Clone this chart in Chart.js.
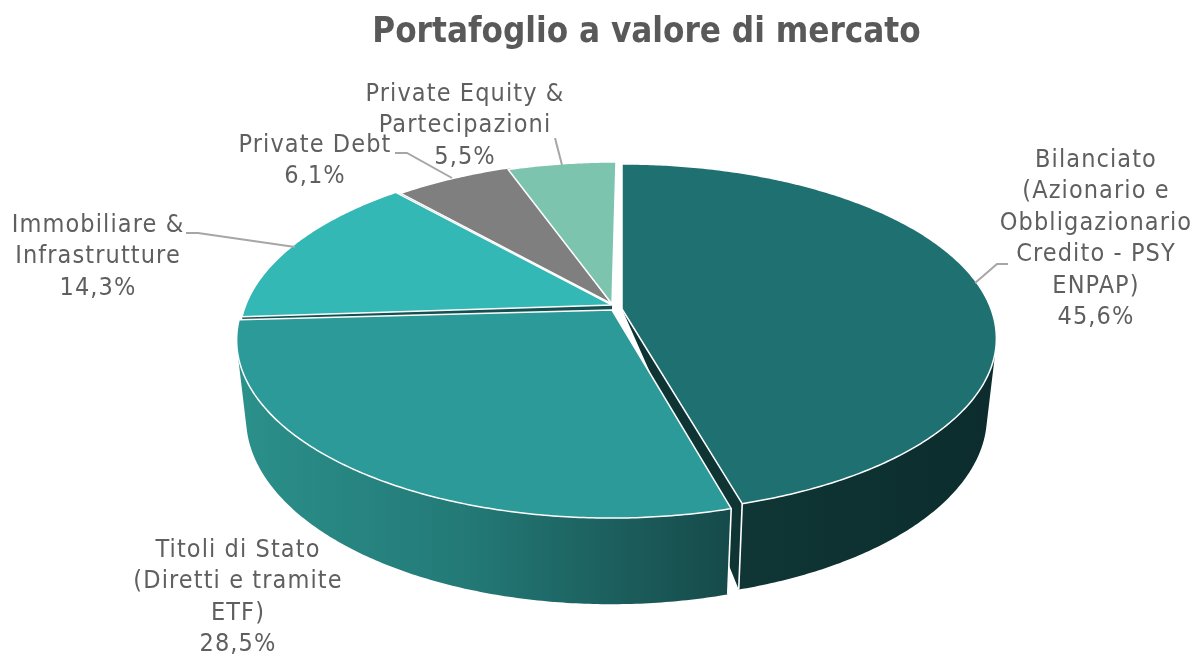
<!DOCTYPE html>
<html><head><meta charset="utf-8">
<style>html,body{margin:0;padding:0;background:#fff}#w{width:1203px;height:655px}</style>
<script src="https://cdn.jsdelivr.net/npm/chart.js@4"></script>
</head><body><div id="w"><canvas id="c"></canvas></div>
<script>
const categories = ["Bilanciato (Azionario e Obbligazionario Credito - PSY ENPAP)","Titoli di Stato (Diretti e tramite ETF)","Immobiliare & Infrastrutture","Private Debt","Private Equity & Partecipazioni"];
const values = [45.6,28.5,14.3,6.1,5.5];
const titleText = "Portafoglio a valore di mercato";
const labelLines = [
  ["Bilanciato","(Azionario e","Obbligazionario","Credito - PSY","ENPAP)","45,6%"],
  ["Titoli di Stato","(Diretti e tramite","ETF)","28,5%"],
  ["Immobiliare &","Infrastrutture","14,3%"],
  ["Private Debt","6,1%"],
  ["Private Equity &","Partecipazioni","5,5%"]
];
const topColors = ["#1f7070","#2c9a99","#33b8b5","#7f7f7f","#7cc4ae"];
const cutColors = ["#0e3434","#1b6a68","#14504f","#505050","#5a9080"];

// Layout (not data)
const P = {cx:612, cy:310, rx:369, ry:173, k:0.1685, depthH:79, depthW:0.025};
const arcOff = [[10,-1,0.98],[-1,0,1],[2,-3,1],[7,-2,1],[4,0,1]];
const hubOff = [[10,-1],[0,0],[0,-5],[0,-6],[0,-6]];
const labelPos = [[1096,160],[238,550],[98,225],[315,145],[465,94]];
const lineH = 31.5;
const leaders = [
  {from:[1008,264],elbow:[997,264],at:[975,283]},
  {from:null},
  {from:[186,233],elbow:[198,233],at:[295,247]},
  {from:[395,153],elbow:[407,153],at:[452,178]},
  {from:[555,138],elbow:null,at:[562,165]}
];
function proj(a,d,i){
  const off=arcOff[i];
  const u=Math.sin(a), v=-Math.cos(a);
  const w=1-P.k*v+(d?P.depthW:0);
  return [P.cx+off[0]+P.rx*u/w, P.cy+off[1]+(P.ry*off[2]*v+(d?P.depthH:0))/w];
}
function hub(d,i){const off=hubOff[i];return [P.cx+off[0],P.cy+off[1]+(d?P.depthH/(1+P.depthW):0)];}

const pie3d = {
  id:'pie3d',
  beforeDatasetsDraw(chart){
    const ctx=chart.ctx, arcs=chart.getDatasetMeta(0).data;
    const ang=arcs.map(e=>[e.startAngle+Math.PI/2,e.endAngle+Math.PI/2]);
    ctx.save();
    ctx.lineJoin='round';
    const wall=(i,grad)=>{
      const [a0,a1]=ang[i], n=Math.ceil((a1-a0)/0.01);
      ctx.beginPath();
      for(let s=0;s<n;s++){
        const p=a0+(a1-a0)*s/n,q=a0+(a1-a0)*(s+1)/n;
        let Q=[proj(p,0,i),proj(q,0,i),proj(q,1,i),proj(p,1,i)];
        let area=0;
        for(let m=0;m<4;m++){const A=Q[m],B=Q[(m+1)%4];area+=A[0]*B[1]-B[0]*A[1];}
        if(area<0)Q.reverse();
        ctx.moveTo(...Q[0]);ctx.lineTo(...Q[1]);ctx.lineTo(...Q[2]);ctx.lineTo(...Q[3]);ctx.closePath();
      }
      ctx.fillStyle=grad;ctx.fill('nonzero');
    };
    const ruling=(a,i)=>{
      ctx.beginPath();ctx.moveTo(...proj(a,0,i));ctx.lineTo(...proj(a,1,i));
      ctx.strokeStyle='#fff';ctx.lineWidth=1.6;ctx.stroke();
    };
    const cut=(i,a,lean)=>{
      const h0=hub(0,i),h1=hub(1,i);
      ctx.beginPath();ctx.moveTo(...h0);ctx.lineTo(...proj(a,0,i));ctx.lineTo(...proj(a,1,i));ctx.lineTo(h1[0]+lean,h1[1]);ctx.closePath();
      ctx.fillStyle=cutColors[i];ctx.fill();
    };
    // visible cut faces
    cut(4,ang[4][0],0);cut(3,ang[3][0],0);cut(2,ang[2][0],0);
    cut(0,ang[0][1],34);
    // outer walls
    const g0=ctx.createLinearGradient(740,0,990,0);
    g0.addColorStop(0,'#0f3635');g0.addColorStop(1,'#0c2c2d');
    wall(0,g0);
    ruling(ang[0][1],0);
    const g1=ctx.createLinearGradient(245,0,730,0);
    g1.addColorStop(0,'#2b8f8a');g1.addColorStop(0.45,'#237a77');g1.addColorStop(1,'#164a4a');
    wall(1,g1);
    ruling(ang[1][0],1);
    // top faces
    arcs.forEach((e,i)=>{
      const [a0,a1]=ang[i],n=Math.ceil((a1-a0)/0.01);
      ctx.beginPath();ctx.moveTo(...hub(0,i));
      for(let s=0;s<=n;s++)ctx.lineTo(...proj(a0+(a1-a0)*s/n,0,i));
      ctx.closePath();
      ctx.fillStyle=topColors[i];ctx.fill();
      ctx.strokeStyle='#fff';ctx.lineWidth=1.5;ctx.stroke();
    });
    ctx.restore();
    return false;
  },
  afterDraw(chart){
    const ctx=chart.ctx;
    ctx.save();
    ctx.strokeStyle='#a6a6a6';ctx.lineWidth=2;
    leaders.forEach(l=>{
      if(!l.from)return;
      ctx.beginPath();ctx.moveTo(...l.from);
      if(l.elbow)ctx.lineTo(...l.elbow);
      ctx.lineTo(...l.at);ctx.stroke();
    });
    ctx.fillStyle='#5f5f5f';
    ctx.font='25px "DejaVu Sans Condensed","DejaVu Sans"';
    ctx.letterSpacing='1.1px';
    ctx.textAlign='center';ctx.textBaseline='middle';
    labelLines.forEach((ls,i)=>ls.forEach((t,j)=>ctx.fillText(t,labelPos[i][0],labelPos[i][1]+j*lineH)));
    ctx.restore();
  }
};
new Chart(document.getElementById('c'),{
  type:'pie',
  data:{labels:categories,datasets:[{data:values,backgroundColor:topColors,borderColor:'#fff'}]},
  plugins:[pie3d],
  options:{
    responsive:true,maintainAspectRatio:false,animation:false,
    layout:{padding:{left:90}},
    plugins:{
      legend:{display:false},tooltip:{enabled:false},
      title:{display:true,text:titleText,color:'#595959',
        font:{family:'"DejaVu Sans Condensed","DejaVu Sans"',size:34.7,weight:'bold'},
        padding:{top:12,bottom:0}}
    }
  }
});
</script></body></html>
